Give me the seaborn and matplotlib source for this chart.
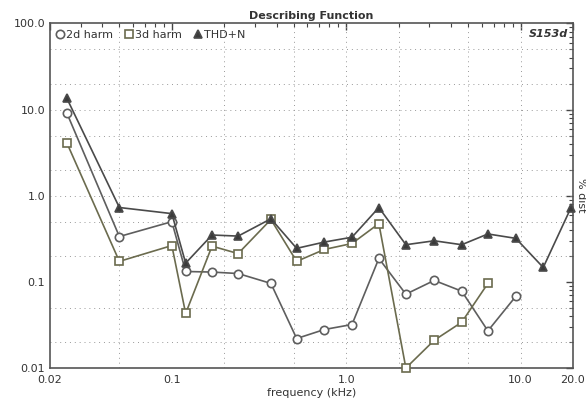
import numpy as np
import pandas as pd
import matplotlib
matplotlib.use('Agg')
import matplotlib.pyplot as plt
import seaborn as sns
from matplotlib.ticker import FixedLocator, NullFormatter, LogLocator

# 数据
freq_thd = [0.025, 0.05, 0.1, 0.12, 0.17, 0.24, 0.37, 0.52, 0.75, 1.08,
            1.54, 2.2, 3.2, 4.6, 6.5, 9.4, 13.5, 19.5]
thd = [13.5, 0.73, 0.62, 0.165, 0.35, 0.34, 0.54, 0.245, 0.29, 0.33,
       0.73, 0.27, 0.30, 0.27, 0.36, 0.32, 0.147, 0.73]

freq_h2 = freq_thd[:16]
harm2 = [9.1, 0.336, 0.5, 0.132, 0.13, 0.125, 0.096, 0.022, 0.028, 0.032,
         0.187, 0.072, 0.104, 0.078, 0.027, 0.068]

freq_h3 = freq_thd[:15]
harm3 = [4.1, 0.173, 0.264, 0.043, 0.26, 0.213, 0.53, 0.173, 0.238, 0.279,
         0.475, 0.01, 0.021, 0.034, 0.096]

x_ticks = [0.02, 0.1, 1, 10, 20]
x_labels = ['0.02', '0.1', '1.0', '10.0', '20.0']
y_ticks = [0.01, 0.1, 1, 10, 100]
y_labels = ['0.01', '0.1', '1.0', '10.0', '100.0']

sns.set_style('white')
plt.rcParams['font.family'] = ['DejaVu Sans']

fig = plt.figure(figsize=(5.86, 4.03), dpi=100)
ax = fig.add_axes([0.0853, 0.0868, 0.8925, 0.855])

series = [
    (freq_h2, harm2, 'o', '#5e5e5e', 'white', '2d harm'),
    (freq_h3, harm3, 's', '#6b6b4e', 'white', '3d harm'),
    (freq_thd, thd, '^', '#4a4a4a', '#3a3a3a', 'THD+N'),
]
for fx, fy, mk, col, fc, lab in series:
    df = pd.DataFrame({'freq': fx, 'val': fy})
    sns.lineplot(data=df, x='freq', y='val', ax=ax, sort=False, estimator=None,
                 color=col, lw=1.2, marker=mk, markersize=6, markerfacecolor=fc,
                 markeredgecolor=col, markeredgewidth=1.2, label=lab, clip_on=False,
                 zorder=3)

ax.set_xscale('log')
ax.set_yscale('log')
ax.set_xlim(0.02, 20)
ax.set_ylim(0.01, 100)

ax.xaxis.set_major_locator(FixedLocator(x_ticks))
ax.set_xticklabels(x_labels)
ax.xaxis.set_minor_locator(LogLocator(base=10, subs=np.arange(2, 10)))
ax.xaxis.set_minor_formatter(NullFormatter())
ax.yaxis.set_major_locator(FixedLocator(y_ticks))
ax.set_yticklabels(y_labels)
ax.yaxis.set_minor_locator(LogLocator(base=10, subs=np.arange(2, 10)))
ax.yaxis.set_minor_formatter(NullFormatter())

ax.tick_params(which='both', direction='in', top=True, right=True,
               colors='#444444', labelsize=8, labelcolor='#333333')
ax.tick_params(which='major', length=5, width=1)
ax.tick_params(which='minor', length=3, width=0.8)
ax.tick_params(axis='x', which='major', pad=5)

for s in ax.spines.values():
    s.set_color('#555555')
    s.set_linewidth(1.2)

# 稀疏点线网格
for gx in [0.05, 0.2, 0.5, 1, 2, 5, 10]:
    ax.axvline(gx, color='#999999', lw=0.7, ls=(0, (1, 4)), zorder=1)
for gy in [0.02, 0.05, 0.2, 0.5, 1, 2, 5, 10, 20, 50]:
    ax.axhline(gy, color='#999999', lw=0.7, ls=(0, (1, 4)), zorder=1)

ax.set_title('Describing Function', fontsize=8, fontweight='bold',
             color='#333333', pad=3)
ax.set_xlabel('frequency (kHz)', fontsize=8, color='#333333', labelpad=2)
ax.set_ylabel('')
ax.text(1.005, 0.5, '% dist', transform=ax.transAxes, rotation=270,
        fontsize=8, color='#333333', ha='left', va='center')
ax.text(0.99, 0.985, 'S153d', transform=ax.transAxes, fontsize=8,
        fontstyle='italic', fontweight='bold', color='#333333',
        ha='right', va='top')

ax.legend(loc='upper left', ncol=3, frameon=False, fontsize=8,
          handlelength=0.6, handletextpad=0.2, columnspacing=1.2,
          borderaxespad=0.2, labelcolor='#333333')
for h in ax.get_legend().legend_handles:
    h.set_linestyle('none')

fig.savefig('out.png', dpi=100)
